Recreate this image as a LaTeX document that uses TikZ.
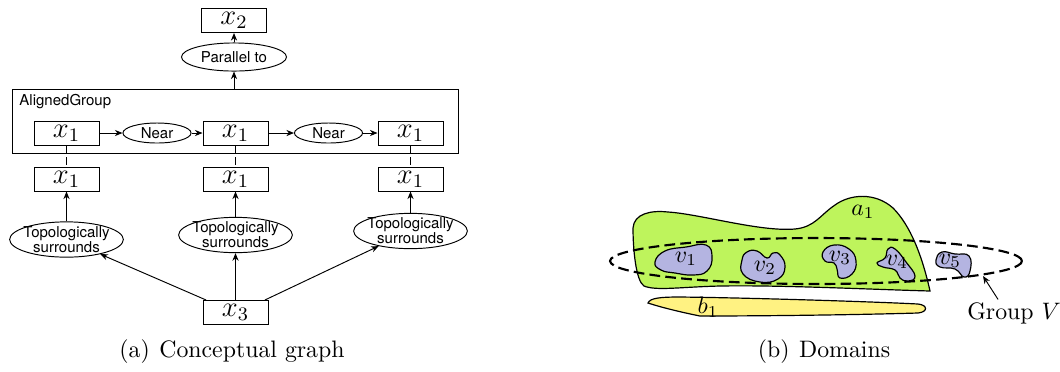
\documentclass[tikz,border=0pt]{standalone}
\usepackage{fontspec}
\setsansfont{TeX Gyre Heros}
\usepackage{amsmath}
\usetikzlibrary{arrows.meta,shapes.geometric}
\definecolor{lime}{HTML}{BEF45C}
\definecolor{straw}{HTML}{FFF282}
\definecolor{lavender}{HTML}{B4B4E1}
\newcommand{\varbox}[3]{
  \node[varnode] (#1) at #2 {$x_{#3}$};
}
\newcommand{\subregion}[3]{
  \draw[regionline,fill=lavender] plot[smooth cycle,tension=0.8] coordinates {#2};
  \node (v#1) at #3 {$v_{#1}$};
}

\begin{document}
\begin{tikzpicture}[x=0.42pt,y=-0.42pt,>={Stealth[length=3.2pt,width=2.6pt]},
  varnode/.style={draw,line width=0.4pt,minimum width=27.3pt,minimum height=10.1pt,inner sep=0pt,font=\large},
  relation/.style={ellipse,draw,line width=0.4pt,inner xsep=-1.2pt,inner ysep=-0.3pt,align=center,font=\sffamily\fontsize{6.3}{6.4}\selectfont},
  link/.style={->,line width=0.4pt},
  tie/.style={densely dashed,line width=0.4pt},
  regionline/.style={draw=black,line width=0.5pt}]
  \useasboundingbox (0,0) rectangle (1060,371);
  % (a) conceptual graph
  \varbox{xtwo}{(234,20.5)}{2}
  \node[relation,minimum width=44.1pt,minimum height=11.8pt] (par) at (234,57) {Parallel to};
  \node[draw,line width=0.4pt,minimum width=187.7pt,minimum height=26.9pt,inner sep=0pt] (grp) at (235.5,121) {};
  \node[anchor=base west,inner sep=0pt,font=\sffamily\fontsize{6.3}{7}\selectfont] (grplabel) at (19,105) {AlignedGroup};
  \varbox{inA}{(66.5,133)}{1}
  \varbox{inB}{(235.5,133)}{1}
  \varbox{inC}{(410.5,133)}{1}
  \node[relation,minimum width=28.6pt,minimum height=8.4pt] (nearA) at (157,133) {Near};
  \node[relation,minimum width=28.6pt,minimum height=8.4pt] (nearB) at (328.5,133) {Near};
  \varbox{outA}{(66.5,179)}{1}
  \varbox{outB}{(235.5,179)}{1}
  \varbox{outC}{(410.5,179)}{1}
  \node[relation,minimum width=46.2pt,minimum height=14.7pt] (tsA) at (66.5,239.5) {Topologically\\surrounds};
  \node[relation,minimum width=46.2pt,minimum height=14.7pt] (tsB) at (235.5,235) {Topologically\\surrounds};
  \node[relation,minimum width=46.2pt,minimum height=14.7pt] (tsC) at (410.5,231) {Topologically\\surrounds};
  \varbox{xthree}{(235.5,312.5)}{3}
  \draw[link] (par) -- (xtwo);
  \draw[link] (grp.north -| par) -- (par);
  \draw[link] (inA) -- (nearA);
  \draw[link] (nearA) -- (inB);
  \draw[link] (inB) -- (nearB);
  \draw[link] (nearB) -- (inC);
  \draw[tie] (inA) -- (outA);
  \draw[tie] (inB) -- (outB);
  \draw[tie] (inC) -- (outC);
  \draw[link] (tsA) -- (outA);
  \draw[link] (tsB) -- (outB);
  \draw[link] (tsC) -- (outC);
  \draw[link] ([xshift=1.5pt]xthree.north west) -- (tsA);
  \draw[link] (xthree) -- (tsB);
  \draw[link] ([xshift=-1.5pt]xthree.north east) -- (tsC);
  \node (capa) at (232,352) {(a)\hspace{4pt}Conceptual graph};
  % (b) domains
  \draw[regionline,fill=lime] (930,291) .. controls (860,289) and (780,285) .. (720,286)
    .. controls (680,287) and (656,291) .. (644,286)
    .. controls (636,281) and (633,250) .. (633,228)
    .. controls (634,214) and (650,210) .. (668,212)
    .. controls (700,214) and (760,232) .. (795,229)
    .. controls (815,227) and (820,215) .. (835,205)
    .. controls (850,194) and (875,192) .. (893,208)
    .. controls (910,225) and (922,255) .. (930,291) -- cycle;
  \draw[regionline,fill=straw] (648,303) .. controls (650,298) and (660,297) .. (680,297)
    .. controls (760,298) and (880,302) .. (918,304)
    .. controls (928,305) and (928,312) .. (918,313)
    .. controls (850,315) and (760,316) .. (700,316)
    .. controls (680,312) and (660,307) .. (648,303) -- cycle;
  \node (aone) at (863,212) {$a_1$};
  \node (bone) at (708,307) {$b_1$};
  \node[ellipse,draw,dash pattern=on 4.5pt off 2.2pt,line width=0.9pt,inner sep=0pt,
    minimum width=173pt,minimum height=19.3pt] (grpV) at (816,261) {};
  \subregion{1}{(655,262) (665,251) (686,247) (706,245) (712,257) (707,271) (693,275) (675,273) (661,270)}{(686,259)}
  \subregion{2}{(742,260) (747,252) (757,251) (767,258) (773,253) (780,255) (785,267) (778,279) (760,282) (743,274)}{(765,268)}
  \subregion{3}{(823,252) (834,245) (849,249) (856,261) (852,274) (840,278) (837,269) (834,263) (825,261)}{(840,258)}
  \subregion{4}{(877,263) (885,258) (888,249) (895,249) (906,262) (915,276) (908,281) (900,278) (895,270) (883,267)}{(897,262)}
  \subregion{5}{(936,260) (942,252) (955,254) (969,256) (970,271) (964,277) (955,269) (940,267)}{(950,261)}
  \node[inner sep=1pt] (gv) at (1014,313) {Group $V$};
  \coordinate (gvtip) at (983,276);
  \draw[->,line width=0.4pt] ([xshift=-6.7pt]gv.north) -- (gvtip);
  \node (capb) at (824,352) {(b)\hspace{4pt}Domains};
\end{tikzpicture}
\end{document}
